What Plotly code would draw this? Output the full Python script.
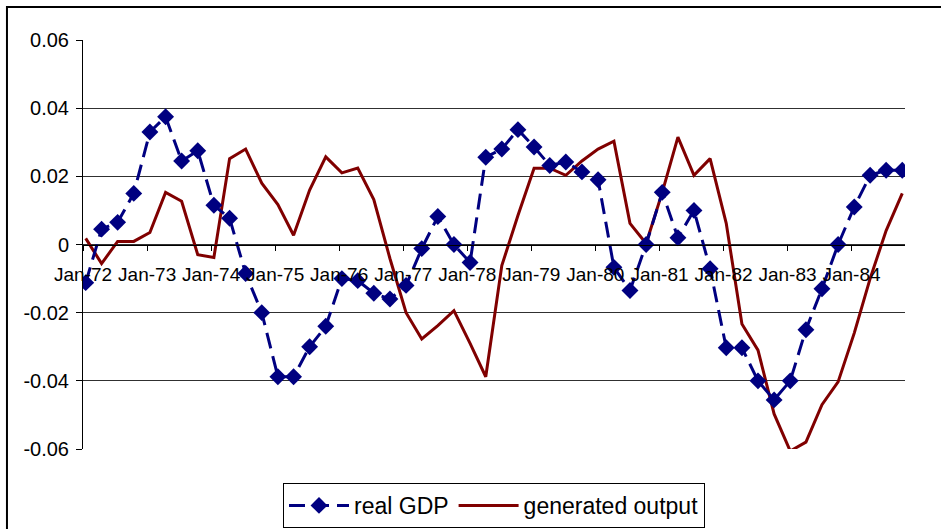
import pandas as pd
import plotly.graph_objects as go

# Quarterly observations, Jan-72 through Oct-84
quarters = pd.date_range("1972-01-01", periods=52, freq="QS")

real_gdp = [
    -0.0112, 0.0045, 0.0065, 0.0150, 0.0330, 0.0375, 0.0245, 0.0275, 0.0115, 0.0077,
    -0.0085, -0.0200, -0.0388, -0.0388, -0.0300, -0.0240, -0.0100, -0.0106, -0.0143, -0.0160,
    -0.0120, -0.0012, 0.0082, 0.0000, -0.0053, 0.0256, 0.0280, 0.0337, 0.0286, 0.0232,
    0.0242, 0.0213, 0.0190, -0.0067, -0.0135, 0.0000, 0.0153, 0.0020, 0.0100, -0.0071,
    -0.0303, -0.0303, -0.0400, -0.0456, -0.0400, -0.0250, -0.0130, 0.0000, 0.0110, 0.0203,
    0.0218, 0.0218,
]

generated_output = [
    0.0018, -0.0056, 0.0009, 0.0009, 0.0035, 0.0153, 0.0127, -0.0030, -0.0038, 0.0252,
    0.0280, 0.0180, 0.0117, 0.0027, 0.0160, 0.0257, 0.0210, 0.0224, 0.0132, -0.0041,
    -0.0200, -0.0277, -0.0238, -0.0194, -0.0290, -0.0388, -0.0062, 0.0085, 0.0224, 0.0224,
    0.0203, 0.0245, 0.0280, 0.0303, 0.0062, 0.0003, 0.0153, 0.0315, 0.0203, 0.0252,
    0.0062, -0.0233, -0.0310, -0.0497, -0.0606, -0.0580, -0.0470, -0.0403, -0.0260, -0.0100,
    0.0041, 0.0150,
]

y_ticks = [-0.06, -0.04, -0.02, 0.0, 0.02, 0.04, 0.06]
y_tick_text = ["-0.06", "-0.04", "-0.02", "0", "0.02", "0.04", "0.06"]

FONT = "Arial, Liberation Sans, sans-serif"

fig = go.Figure()

fig.add_trace(go.Scatter(
    x=quarters, y=generated_output, name="generated output",
    mode="lines", xperiod="M1", xperiodalignment="middle",
    line=dict(color="#800000", width=3),
    legendrank=2,
))

fig.add_trace(go.Scatter(
    x=quarters, y=real_gdp, name="real GDP",
    mode="lines+markers", xperiod="M1", xperiodalignment="middle",
    line=dict(color="#000080", width=3, dash="16px,8px"),
    marker=dict(symbol="diamond", size=13, color="#000080"),
    legendrank=1,
))

fig.update_layout(
    width=941, height=529,
    margin=dict(l=83, r=36, t=40, b=80, autoexpand=False),
    paper_bgcolor="white", plot_bgcolor="white",
    font=dict(family=FONT, size=19, color="black"),
    showlegend=True,
    legend=dict(
        orientation="h", x=0.5, xanchor="center", y=-0.083, yanchor="top",
        bordercolor="black", borderwidth=1, bgcolor="white",
        font=dict(size=23), itemwidth=60, traceorder="normal",
    ),
    xaxis=dict(
        type="date", range=["1972-01-01", "1984-11-01"],
        tick0="1972-01-01", dtick="M12", tickformat="%b-%y",
        anchor="free", position=0.5,
        showline=True, linecolor="black", linewidth=1,
        ticks="outside", ticklen=5, tickcolor="black", tickwidth=1,
        ticklabelstandoff=8,
        showgrid=False, zeroline=False,
        tickfont=dict(size=19),
    ),
    yaxis=dict(
        range=[-0.06, 0.06], tickvals=y_ticks, ticktext=y_tick_text,
        showline=True, linecolor="black", linewidth=1,
        ticks="outside", ticklen=6, tickcolor="black", tickwidth=1,
        ticklabelstandoff=3,
        showgrid=True, gridcolor="#303030", gridwidth=1,
        zeroline=False,
        tickfont=dict(size=20),
    ),
)

# Chart-area frame
fig.add_shape(
    type="rect", xref="paper", yref="paper",
    x0=-0.0925, x1=1.1, y0=-0.3, y1=1.0807,
    line=dict(color="black", width=2), fillcolor="rgba(0,0,0,0)", layer="below",
)

fig.write_html("out.html")
